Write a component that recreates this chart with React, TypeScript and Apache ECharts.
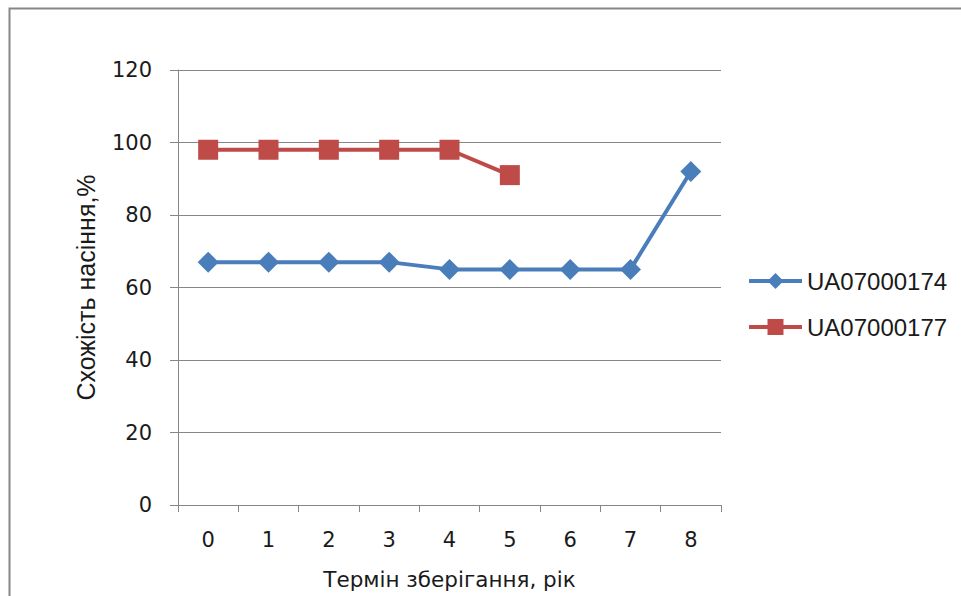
import React, { useEffect, useRef } from "react";
import * as echarts from "echarts";

const categories = ["0", "1", "2", "3", "4", "5", "6", "7", "8"];
const seriesA = [67, 67, 67, 67, 65, 65, 65, 65, 92];
const seriesB = [98, 98, 98, 98, 98, 91];
const nameA = "UA07000174";
const nameB = "UA07000177";
const yTitle = "Схожість насіння,%";
const xTitle = "Термін зберігання, рік";

export default function App() {
  const ref = useRef<HTMLDivElement>(null);
  useEffect(() => {
    if (!ref.current) return;
    const chart = echarts.init(ref.current, undefined, { renderer: "svg" });
    const wide = "DejaVu Sans, sans-serif";
    const arial = "Liberation Sans, Arial, sans-serif";
    const txt = "#1a1a1a";
    chart.setOption({
      animation: false,
      backgroundColor: "#ffffff",
      textStyle: { fontFamily: wide },
      graphic: [
        {
          type: "rect",
          shape: { x: 9.5, y: 8.5, width: 1100, height: 800 },
          style: { fill: "none", stroke: "#878787", lineWidth: 2 },
          silent: true,
        },
      ],
      grid: { left: 178, top: 70, right: 240, bottom: 91 },
      legend: {
        orient: "vertical",
        left: 742,
        top: 264,
        itemWidth: 53,
        itemHeight: 20,
        itemGap: 22,
        textStyle: { fontSize: 24, color: txt, fontFamily: arial },
        lineStyle: { width: 4 },
        data: [nameA, nameB],
      },
      xAxis: {
        type: "category",
        data: categories,
        boundaryGap: true,
        name: xTitle,
        nameLocation: "middle",
        nameGap: 63,
        nameTextStyle: { fontSize: 21.5, color: txt, fontFamily: wide },
        axisLine: { lineStyle: { color: "#868686", width: 1 } },
        axisTick: { show: true, length: 7, lineStyle: { color: "#868686" } },
        axisLabel: { fontSize: 21, color: txt, margin: 24, fontFamily: wide },
        splitLine: { show: false },
      },
      yAxis: {
        type: "value",
        min: 0,
        max: 120,
        interval: 20,
        name: yTitle,
        nameLocation: "middle",
        nameGap: 80,
        nameRotate: 90,
        nameTextStyle: { fontSize: 25, color: txt, fontFamily: arial },
        axisLine: { show: true, lineStyle: { color: "#868686", width: 1 } },
        axisTick: { show: true, length: 8, inside: false, lineStyle: { color: "#868686" } },
        axisLabel: { fontSize: 21, color: txt, margin: 26, fontFamily: wide },
        splitLine: { show: true, lineStyle: { color: "#868686", width: 1 } },
      },
      series: [
        {
          name: nameA,
          type: "line",
          data: seriesA,
          symbol: "diamond",
          symbolSize: 21,
          itemStyle: { color: "#4A7EBB" },
          lineStyle: { color: "#4A7EBB", width: 4 },
        },
        {
          name: nameB,
          type: "line",
          data: seriesB,
          symbol: "rect",
          symbolSize: 20,
          itemStyle: { color: "#BE4B48" },
          lineStyle: { color: "#BE4B48", width: 4 },
        },
      ],
    });
    return () => chart.dispose();
  }, []);
  return (
    <div
      ref={ref}
      style={{ position: "fixed", left: 0, top: 0, width: 961, height: 596 }}
    />
  );
}
